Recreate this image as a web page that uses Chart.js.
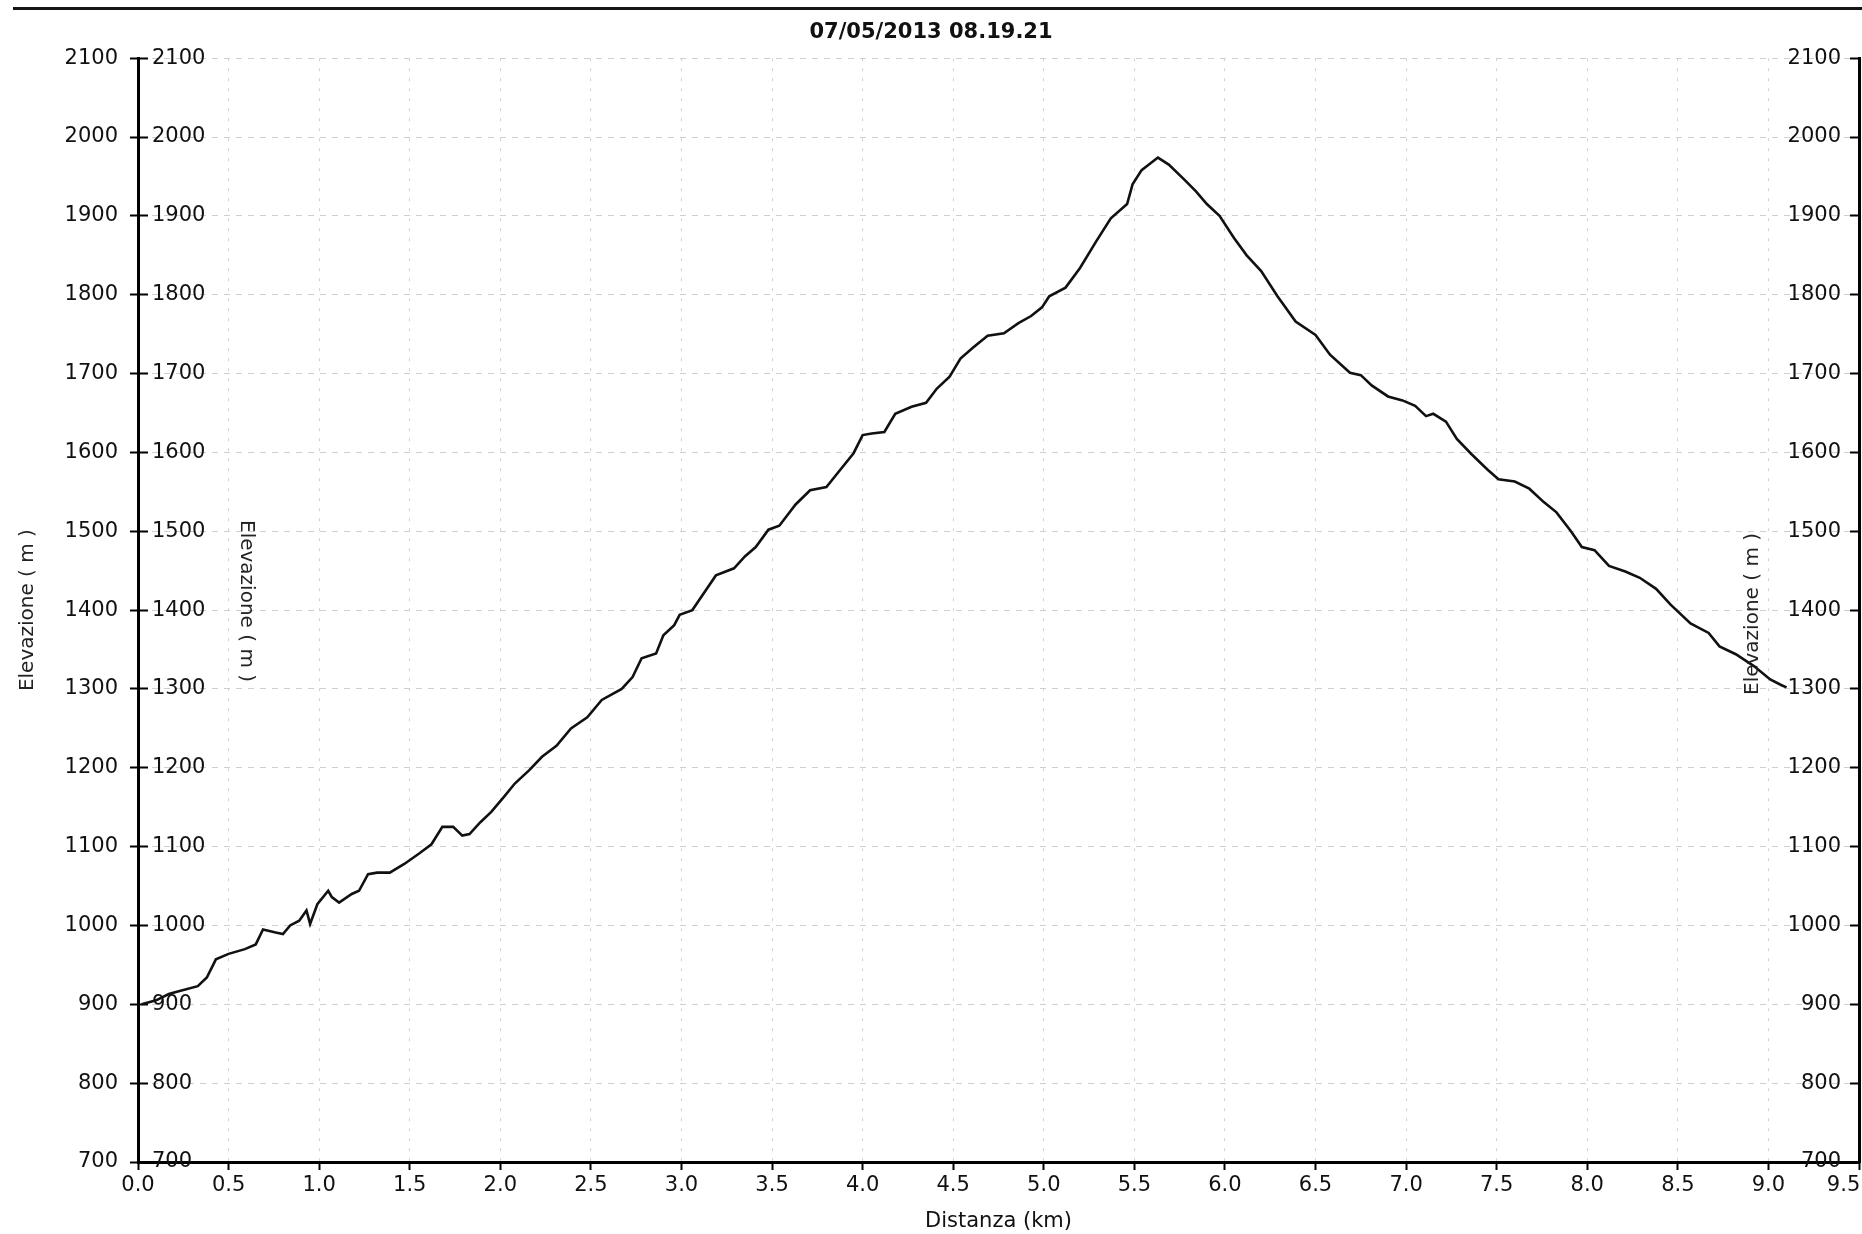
<!DOCTYPE html>
<html>
<head>
<meta charset="utf-8">
<script src="https://cdn.jsdelivr.net/npm/chart.js@4.4.1/dist/chart.umd.min.js"></script>
<style>
  html, body { margin: 0; padding: 0; background: #fff; }
  #wrap { position: relative; width: 1862px; height: 1234px; overflow: hidden; }
  canvas { position: absolute; left: 0; top: 0; }
  #topline { position: absolute; left: 13px; top: 7px; width: 1849px; height: 3px; background: #151515; }
  .ytitle { position: absolute; font-family: "DejaVu Sans", sans-serif; font-size: 20px; color: #222; white-space: nowrap; line-height: 1; }
</style>
</head>
<body>
<div id="wrap">
  <canvas id="c" width="1862" height="1234"></canvas>
  <div id="topline"></div>
  <div class="ytitle" id="innerTitle" style="left:248px; top:601px; transform: translate(-50%,-50%) rotate(90deg);">Elevazione ( m )</div>
  <div class="ytitle" id="rightTitle" style="left:1751px; top:614px; transform: translate(-50%,-50%) rotate(-90deg);">Elevazione ( m )</div>
</div>
<script>
// ---- data ----
const chartTitle = '07/05/2013 08.19.21';
const xTitle = 'Distanza (km)';
const yTitle = 'Elevazione ( m )';

const distanceKm = [0.02, 0.10, 0.17, 0.23, 0.33, 0.38, 0.43, 0.50, 0.59, 0.65, 0.69, 0.76, 0.80, 0.84, 0.89, 0.93, 0.95, 0.99,
  1.05, 1.07, 1.11, 1.18, 1.22, 1.27, 1.32, 1.39, 1.47, 1.55, 1.62, 1.68, 1.74, 1.79, 1.83, 1.89, 1.95,
  2.02, 2.08, 2.16, 2.23, 2.31, 2.39, 2.48, 2.56, 2.67, 2.73, 2.78, 2.86, 2.90, 2.96, 2.99,
  3.06, 3.11, 3.19, 3.29, 3.35, 3.41, 3.48, 3.54, 3.63, 3.71, 3.80, 3.88, 3.95,
  4.00, 4.05, 4.12, 4.18, 4.27, 4.35, 4.41, 4.48, 4.54, 4.61, 4.69, 4.78, 4.86, 4.93, 4.99,
  5.03, 5.12, 5.20, 5.29, 5.37, 5.46, 5.49, 5.54, 5.63, 5.69, 5.78, 5.84, 5.90, 5.97,
  6.05, 6.12, 6.20, 6.29, 6.39, 6.50, 6.58, 6.69, 6.75, 6.81, 6.90, 6.98,
  7.05, 7.11, 7.15, 7.22, 7.28, 7.36, 7.45, 7.51, 7.60, 7.68, 7.76, 7.83, 7.91, 7.97,
  8.04, 8.12, 8.21, 8.29, 8.38, 8.46, 8.57, 8.67, 8.73, 8.82, 8.92, 9.01, 9.07, 9.10];

const elevationM = [900, 905, 913, 917, 923, 934, 957, 964, 970, 976, 995, 991, 989, 1000, 1006, 1019, 1002, 1027,
  1044, 1036, 1029, 1040, 1044, 1065, 1067, 1067, 1078, 1091, 1103, 1125, 1125, 1114, 1116, 1131, 1144,
  1163, 1180, 1197, 1214, 1228, 1250, 1264, 1286, 1300, 1315, 1339, 1345, 1368, 1381, 1394,
  1400, 1417, 1444, 1453, 1468, 1480, 1502, 1507, 1534, 1552, 1556, 1579, 1599,
  1622, 1624, 1626, 1649, 1658, 1663, 1681, 1696, 1719, 1733, 1748, 1751, 1764, 1773, 1784,
  1798, 1809, 1834, 1868, 1897, 1915, 1940, 1958, 1974, 1965, 1945, 1931, 1915, 1900,
  1872, 1850, 1830, 1798, 1766, 1749, 1724, 1701, 1698, 1685, 1671, 1666,
  1659, 1646, 1649, 1639, 1617, 1598, 1578, 1566, 1563, 1554, 1537, 1524, 1500, 1480,
  1476, 1456, 1449, 1441, 1427, 1407, 1383, 1371, 1354, 1344, 1329, 1312, 1305, 1302];

const xTickValues = [0, 0.5, 1, 1.5, 2, 2.5, 3, 3.5, 4, 4.5, 5, 5.5, 6, 6.5, 7, 7.5, 8, 8.5, 9, 9.5];
const xTickLabels = ['0.0','0.5','1.0','1.5','2.0','2.5','3.0','3.5','4.0','4.5','5.0','5.5','6.0','6.5','7.0','7.5','8.0','8.5','9.0','9.5'];
const yTickValues = [700, 800, 900, 1000, 1100, 1200, 1300, 1400, 1500, 1600, 1700, 1800, 1900, 2000, 2100];
const yTickLabels = ['700','800','900','1000','1100','1200','1300','1400','1500','1600','1700','1800','1900','2000','2100'];

// ---- chart ----
const FONT = '"DejaVu Sans", sans-serif';
const tickFont = { family: FONT, size: 21 };
const points = distanceKm.map((d, i) => ({ x: d, y: elevationM[i] }));

const yTicksSetter = s => { s.ticks = yTickValues.map(v => ({ value: v })); };
const yLabel = (v, i) => yTickLabels[i];
const noPad = s => { s.paddingLeft = 0; s.paddingRight = 0; s.paddingTop = 0; s.paddingBottom = 0; };
// last x label is pulled inside the canvas (as in the original) by trailing spacing
const xLabel = (v, i) => (i === xTickLabels.length - 1 ? xTickLabels[i] + '\u2007\u2007\u2009' : xTickLabels[i]);

new Chart(document.getElementById('c'), {
  type: 'line',
  data: {
    datasets: [{
      data: points,
      borderColor: '#111',
      borderWidth: 2.6,
      pointRadius: 0,
      tension: 0,
      fill: false
    }]
  },
  options: {
    responsive: false,
    animation: false,
    devicePixelRatio: 1,
    layout: { padding: 0, autoPadding: false },
    plugins: {
      legend: { display: false },
      tooltip: { enabled: false },
      title: {
        display: true,
        text: chartTitle,
        color: '#111',
        font: { family: FONT, size: 21, weight: 'bold' },
        padding: { top: 20, bottom: 13 }
      }
    },
    scales: {
      x: {
        type: 'linear',
        min: 0, max: 9.5,
        afterBuildTicks: s => { s.ticks = xTickValues.map(v => ({ value: v })); },
        ticks: { callback: xLabel, font: tickFont, color: '#111', padding: 3, maxRotation: 0, autoSkip: false },
        grid: { color: '#d2d2d2', lineWidth: 1, tickColor: '#000', tickWidth: 2, tickLength: 8 },
        border: { color: '#000', width: 3, dash: [3, 7] },
        title: { display: true, text: xTitle, color: '#111', font: tickFont, padding: { top: 0, bottom: 0 } },
        afterFit: s => { s.height = 72; noPad(s); }
      },
      y: {
        position: 'left',
        weight: 1,
        min: 700, max: 2100,
        afterBuildTicks: yTicksSetter,
        ticks: { callback: yLabel, font: tickFont, color: '#111', padding: 12, autoSkip: false },
        grid: { color: '#cfcfcf', lineWidth: 1, tickColor: '#000', tickWidth: 2, tickLength: 8 },
        border: { color: '#000', width: 3, dash: [6, 6] },
        title: { display: true, text: yTitle, color: '#222', font: { family: FONT, size: 20 }, padding: { top: 16, bottom: 0 } },
        afterFit: s => { s.width = 138; noPad(s); }
      },
      y2: {
        position: 'left',
        weight: 0,
        min: 700, max: 2100,
        afterBuildTicks: yTicksSetter,
        ticks: { callback: yLabel, font: tickFont, color: '#111', mirror: true, padding: 14, autoSkip: false },
        grid: { drawOnChartArea: false, tickColor: '#000', tickWidth: 2, tickLength: -10 },
        border: { display: false },
        afterFit: s => { s.width = 0; noPad(s); }
      },
      yR: {
        position: 'right',
        min: 700, max: 2100,
        afterBuildTicks: yTicksSetter,
        ticks: { callback: yLabel, font: tickFont, color: '#111', mirror: true, padding: -18, autoSkip: false },
        grid: { drawOnChartArea: false, tickColor: '#000', tickWidth: 2, tickLength: -9 },
        border: { color: '#000', width: 3 },
        afterFit: s => { s.width = 3; noPad(s); }
      }
    }
  }
});
</script>
</body>
</html>
